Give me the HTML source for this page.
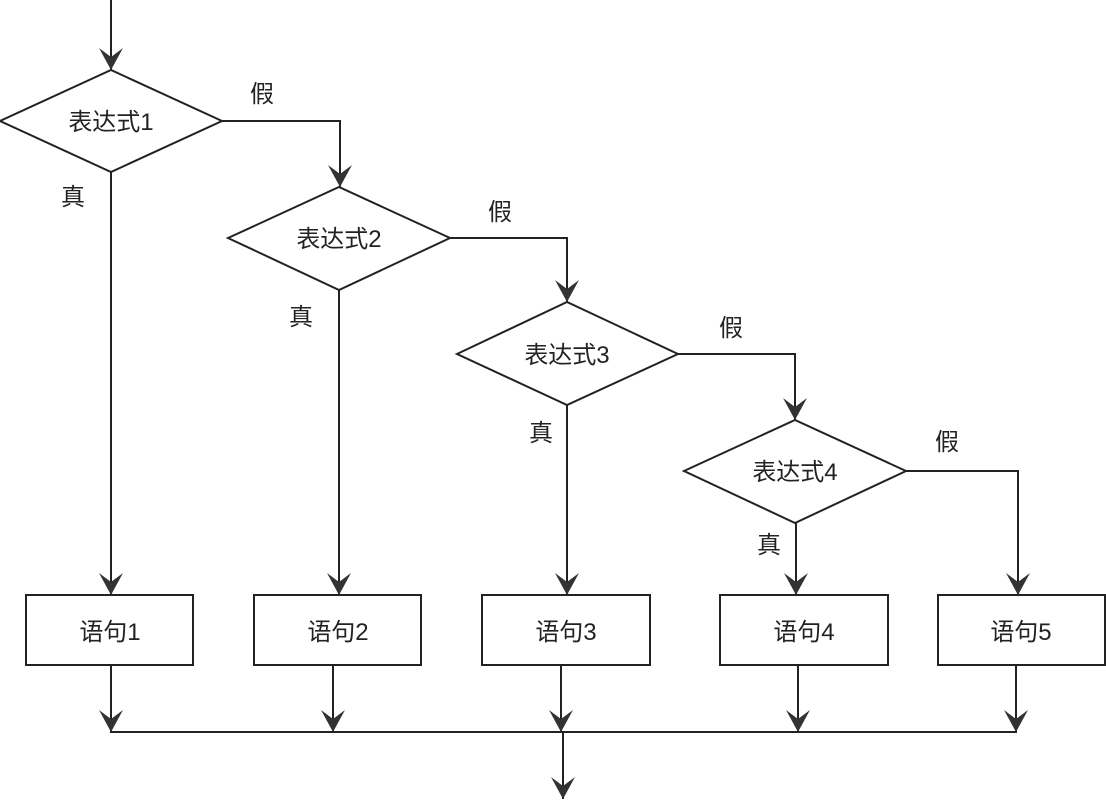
<!DOCTYPE html>
<html><head><meta charset="utf-8"><style>
html,body{margin:0;padding:0;background:#fff;}
svg text{font-family:"Liberation Sans","Noto Sans CJK SC",sans-serif;font-size:24px;fill:#222;}
</style></head><body>
<svg width="1106" height="799" viewBox="0 0 1106 799" xmlns="http://www.w3.org/2000/svg">
<defs>
<path id="ah" d="M0,0 L-12,-22 L0,-13 L12,-22 Z" fill="#333"/>
</defs>
<g stroke="#222" stroke-width="2" fill="none">
<!-- top -->
<line x1="111" y1="0" x2="111" y2="70"/>
<!-- diamonds -->
<polygon points="0,121 111,70 222,121 111,172"/>
<polygon points="228,238 339,187 450,238 339,290"/>
<polygon points="457,354 567,302 678,354 567,405"/>
<polygon points="684,471 795,420 906,471 795,523"/>
<!-- false branches -->
<polyline points="222,121 340,121 340,187"/>
<polyline points="450,238 567,238 567,302"/>
<polyline points="678,354 795,354 795,420"/>
<polyline points="906,471 1018,471 1018,595"/>
<!-- true branches -->
<line x1="111" y1="172" x2="111" y2="595"/>
<line x1="339" y1="290" x2="339" y2="595"/>
<line x1="567" y1="405" x2="567" y2="595"/>
<line x1="796" y1="523" x2="796" y2="595"/>
<!-- boxes -->
<rect x="26" y="595" width="167" height="70"/>
<rect x="254" y="595" width="167" height="70"/>
<rect x="482" y="595" width="168" height="70"/>
<rect x="720" y="595" width="168" height="70"/>
<rect x="938" y="595" width="167" height="70"/>
<!-- bottom -->
<line x1="111" y1="665" x2="111" y2="732"/>
<line x1="333" y1="665" x2="333" y2="732"/>
<line x1="561" y1="665" x2="561" y2="732"/>
<line x1="798" y1="665" x2="798" y2="732"/>
<line x1="1016" y1="665" x2="1016" y2="732"/>
<line x1="110" y1="732" x2="1017" y2="732"/>
<line x1="563" y1="732" x2="563" y2="799"/>
</g>
<!-- arrowheads -->
<use href="#ah" x="111" y="70"/>
<use href="#ah" x="340" y="187"/>
<use href="#ah" x="567" y="302"/>
<use href="#ah" x="795" y="420"/>
<use href="#ah" x="111" y="595"/>
<use href="#ah" x="339" y="595"/>
<use href="#ah" x="567" y="595"/>
<use href="#ah" x="796" y="595"/>
<use href="#ah" x="1018" y="595"/>
<use href="#ah" x="111" y="732"/>
<use href="#ah" x="333" y="732"/>
<use href="#ah" x="561" y="732"/>
<use href="#ah" x="798" y="732"/>
<use href="#ah" x="1016" y="732"/>
<use href="#ah" x="563" y="799"/>
<!-- labels -->
<text x="111" y="130" text-anchor="middle">表达式1</text>
<text x="339" y="247" text-anchor="middle">表达式2</text>
<text x="567" y="363" text-anchor="middle">表达式3</text>
<text x="795" y="480" text-anchor="middle">表达式4</text>
<text x="262" y="102" text-anchor="middle">假</text>
<text x="500" y="220" text-anchor="middle">假</text>
<text x="731" y="336" text-anchor="middle">假</text>
<text x="947" y="450" text-anchor="middle">假</text>
<text x="73" y="205" text-anchor="middle">真</text>
<text x="301" y="325" text-anchor="middle">真</text>
<text x="541" y="441" text-anchor="middle">真</text>
<text x="769" y="553" text-anchor="middle">真</text>
<text x="110" y="640" text-anchor="middle">语句1</text>
<text x="338" y="640" text-anchor="middle">语句2</text>
<text x="566" y="640" text-anchor="middle">语句3</text>
<text x="804" y="640" text-anchor="middle">语句4</text>
<text x="1021" y="640" text-anchor="middle">语句5</text>
</svg>
</body></html>
